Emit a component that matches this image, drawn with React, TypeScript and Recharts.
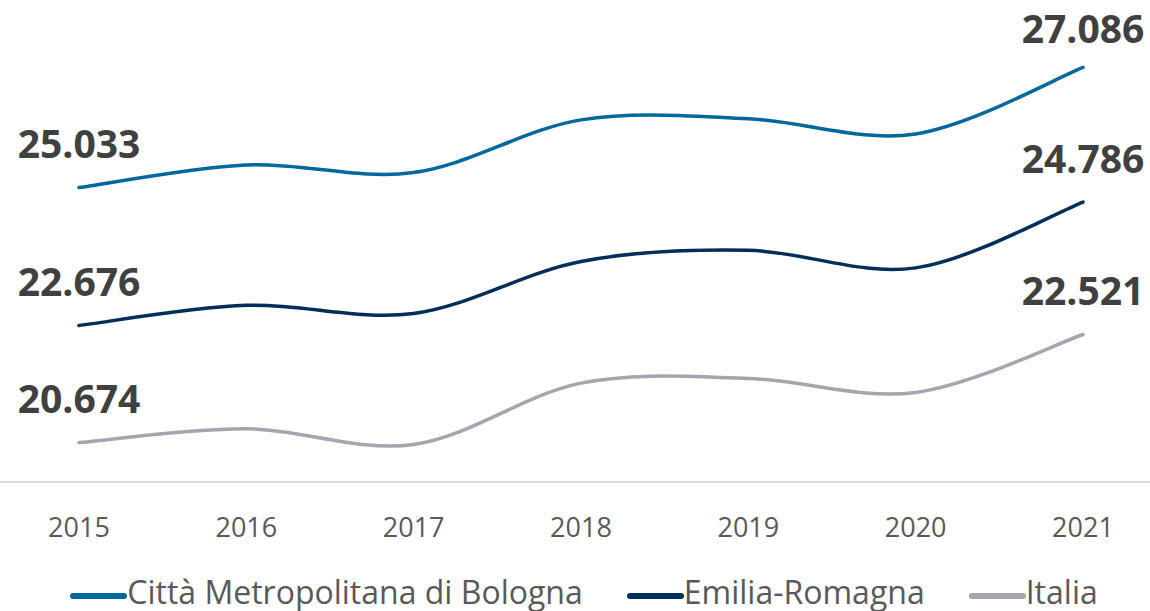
// Reddito pro capite 2015-2021: Bologna, Emilia-Romagna, Italia
import { LineChart, Line, XAxis, YAxis, Legend, LabelList } from "recharts";

const YEARS = ["2015", "2016", "2017", "2018", "2019", "2020", "2021"];
const BOLOGNA = [25033, 25420, 25290, 26190, 26210, 25950, 27086];
const EMILIA = [22676, 23020, 22880, 23770, 23960, 23660, 24786];
const ITALIA = [20674, 20910, 20640, 21690, 21770, 21530, 22521];

const SERIES = [
    { key: "bologna", name: "Città Metropolitana di Bologna", color: "#00689c" },
    { key: "emilia", name: "Emilia-Romagna", color: "#002e5a" },
    { key: "italia", name: "Italia", color: "#a3a5b0" },
];

const FONT = "'Open Sans', 'DejaVu Sans', sans-serif";

const data = YEARS.map((anno, i) => ({
    anno,
    bologna: BOLOGNA[i],
    emilia: EMILIA[i],
    italia: ITALIA[i],
}));

const fmt = (v: number) => String(v).replace(/\B(?=(\d{3})+(?!\d))/g, ".");

// curva "smussata" tipo Excel (Catmull-Rom)
function smoothCurve(context: any) {
    let pts: number[][] = [];
    return {
        areaStart() {},
        areaEnd() {},
        lineStart() { pts = []; },
        point(x: number, y: number) { pts.push([+x, +y]); },
        lineEnd() {
            const n = pts.length;
            if (!n) return;
            context.moveTo(pts[0][0], pts[0][1]);
            for (let i = 0; i < n - 1; i++) {
                const p0 = pts[Math.max(i - 1, 0)];
                const p1 = pts[i];
                const p2 = pts[i + 1];
                const p3 = pts[Math.min(i + 2, n - 1)];
                context.bezierCurveTo(
                    p1[0] + (p2[0] - p0[0]) / 6, p1[1] + (p2[1] - p0[1]) / 6,
                    p2[0] - (p3[0] - p1[0]) / 6, p2[1] - (p3[1] - p1[1]) / 6,
                    p2[0], p2[1]
                );
            }
        },
    };
}

// etichette solo sul primo e ultimo anno
const renderEndLabel = (props: any) => {
    const { index, value } = props;
    if (index !== 0 && index !== YEARS.length - 1) return null;
    const x = props.x ?? props.viewBox?.x;
    const y = props.y ?? props.viewBox?.y;
    return (
        <text
            x={x}
            y={Math.max(y - 45, 27)}
            textAnchor="middle"
            dominantBaseline="central"
            fill="#404040"
            fontSize={39}
            fontWeight={700}
            fontFamily={FONT}
        >
            {fmt(Number(value))}
        </text>
    );
};

const renderLegend = () => (
    <div
        style={{
            height: 59,
            display: "flex",
            justifyContent: "center",
            alignItems: "flex-start",
            gap: 44,
            fontFamily: FONT,
            fontSize: 32,
            color: "#595959",
            paddingLeft: 18,
            paddingTop: 18,
            boxSizing: "border-box",
        }}
    >
        {SERIES.map((s) => (
            <div key={s.key} style={{ display: "flex", alignItems: "center", lineHeight: "44px", whiteSpace: "nowrap" }}>
                <span
                    style={{
                        display: "inline-block",
                        width: 57,
                        height: 5.5,
                        borderRadius: 3,
                        background: s.color,
                        position: "relative",
                        top: 4,
                    }}
                />
                {s.name}
            </div>
        ))}
    </div>
);

export default function App() {
    return (
        <div style={{ position: "absolute", left: 0, top: 0, background: "#fff" }}>
            <LineChart
                width={1150}
                height={611}
                data={data}
                margin={{ top: 14, right: 0, bottom: 0, left: 0 }}
                style={{ fontFamily: FONT }}
            >
                <XAxis
                    dataKey="anno"
                    padding={{ left: 79, right: 67 }}
                    height={70}
                    tickLine={false}
                    tickSize={0}
                    tickMargin={36}
                    axisLine={{ stroke: "#d9d9d9", strokeWidth: 2 }}
                    tick={{ fill: "#595959", fontSize: 27, fontFamily: FONT }}
                    interval={0}
                />
                <YAxis hide domain={[20000, 28000]} />
                <Legend verticalAlign="bottom" height={59} content={renderLegend} />
                {SERIES.map((s) => (
                    <Line
                        key={s.key}
                        dataKey={s.key}
                        name={s.name}
                        type={smoothCurve as any}
                        stroke={s.color}
                        strokeWidth={3.5}
                        strokeLinecap="round"
                        dot={false}
                        activeDot={false}
                        isAnimationActive={false}
                    >
                        <LabelList dataKey={s.key} content={renderEndLabel} />
                    </Line>
                ))}
            </LineChart>
        </div>
    );
}
